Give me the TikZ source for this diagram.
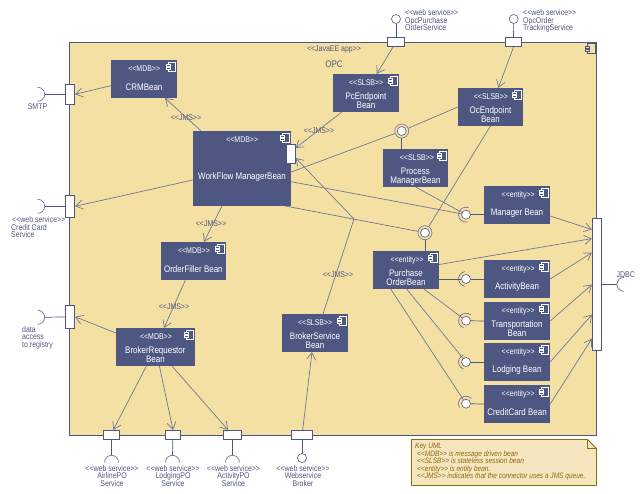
\documentclass[tikz,border=0pt]{standalone}
\usepackage{fontspec}
\setmainfont[FakeStretch=0.84]{Liberation Sans}
\usetikzlibrary{positioning, shapes, arrows.meta, calc}
\setlength{\lineskiplimit}{-5pt}

\definecolor{umlblue}{HTML}{4E5782}
\definecolor{umlline}{HTML}{6F7699}
\definecolor{umlsand}{HTML}{F5E0A3}
\definecolor{notefill}{HTML}{F6E6BF}
\definecolor{notedraw}{HTML}{8F6A10}

\tikzset{
  bean/.style={fill=umlblue, text=white, minimum width=66pt, minimum height=37.7pt, inner sep=0pt, align=center, font=\fontsize{9.5}{9}\selectfont},
  port/.style={draw=umlblue, fill=white, line width=0.8pt, inner sep=0pt},
  ball/.style={circle, draw=umlblue, fill=white, line width=0.6pt, minimum size=9pt, inner sep=0pt},
  ring/.style={circle, draw=umlline, line width=0.6pt, minimum size=14pt, inner sep=0pt},
  small/.style={text=umlblue, inner sep=0pt, align=left, font=\fontsize{8.3}{7.4}\selectfont},
  smallc/.style={small, align=center},
  jms/.style={small},
  flow/.style={draw=umlline, line width=0.7pt, -{Straight Barb[length=7pt,width=9pt]}},
  wire/.style={draw=umlline, line width=0.7pt},
  stub/.style={draw=umlblue, line width=0.7pt},
  sock/.style={draw=umlline, line width=0.7pt}
}

\newcommand{\st}[1]{<{}<#1>{}>}
% stereotype and small component icon at the top of a bean
\newcommand{\beanhead}[3]{
  \node[text=white, inner sep=0pt, font=\fontsize{8.3}{8}\selectfont] at ($(#1.north east)+(#3,9)$) {\st{#2}};
  \draw[white, line width=0.7pt, fill=umlblue] ($(#1.north east)+(-8.5,2.5)$) rectangle ($(#1.north east)+(-1.5,11.5)$);
  \draw[white, line width=0.7pt, fill=umlblue] ($(#1.north east)+(-10.5,4.5)$) rectangle ($(#1.north east)+(-7,6.5)$);
  \draw[white, line width=0.7pt, fill=umlblue] ($(#1.north east)+(-10.5,7.5)$) rectangle ($(#1.north east)+(-7,9.5)$);
}

\begin{document}
\begin{tikzpicture}[x=1pt, y=-1pt]
\useasboundingbox (0,0) rectangle (640,493);

% JavaEE application frame
\node[draw=umlblue, fill=umlsand, line width=0.8pt, minimum width=527pt, minimum height=392.8pt, inner sep=0pt] (opc) at (333,238.9) {};
\draw[umlblue, line width=0.7pt] (587.5,43.5) rectangle (595.5,53.5);
\draw[umlblue, line width=0.7pt, fill=umlsand] (585.5,46) rectangle (589.5,48);
\draw[umlblue, line width=0.7pt, fill=umlsand] (585.5,49.5) rectangle (589.5,51.5);
\node[smallc] (opcstereo) at (334,49.7) {\st{JavaEE app}};
\node[smallc, font=\fontsize{9.5}{9}\selectfont] (opcname) at (334,64.5) {OPC};

% Beans
\node[bean] (crm) at (144,79) {\mbox{}\\[14pt]CRMBean};
\node[bean, minimum width=98pt, minimum height=74.7pt] (workflow) at (242,168.4) {\mbox{}\\[15pt]WorkFlow ManagerBean};
\node[bean, minimum width=64.7pt] (orderfiller) at (193.4,261) {\mbox{}\\[14pt]OrderFiller Bean};
\node[bean, minimum width=78.7pt] (brokerreq) at (155.4,347) {\mbox{}\\[14pt]BrokerRequestor\\Bean};
\node[bean] (brokersvc) at (315,333) {\mbox{}\\[14pt]BrokerService\\Bean};
\node[bean] (pcend) at (366,93) {\mbox{}\\[14pt]PcEndpoint\\Bean};
\node[bean, minimum width=64.7pt] (ocend) at (490.4,107) {\mbox{}\\[14pt]OcEndpoint\\Bean};
\node[bean, minimum width=64.7pt] (procmgr) at (415.4,168) {\mbox{}\\[14pt]Process\\ManagerBean};
\node[bean] (manager) at (517,205) {\mbox{}\\[14pt]Manager Bean};
\node[bean] (purchase) at (406,270) {\mbox{}\\[14pt]Purchase\\OrderBean};
\node[bean] (activity) at (517,279) {\mbox{}\\[14pt]ActivityBean};
\node[bean] (transport) at (517,321) {\mbox{}\\[14pt]Transportation\\Bean};
\node[bean] (lodging) at (517,362) {\mbox{}\\[14pt]Lodging Bean};
\node[bean] (credit) at (517,404) {\mbox{}\\[14pt]CreditCard Bean};

\beanhead{crm}{MDB}{-33}
\beanhead{workflow}{MDB}{-49}
\beanhead{orderfiller}{MDB}{-32}
\beanhead{brokerreq}{MDB}{-39}
\beanhead{brokersvc}{SLSB}{-33}
\beanhead{pcend}{SLSB}{-33}
\beanhead{ocend}{SLSB}{-32}
\beanhead{procmgr}{SLSB}{-31}
\beanhead{manager}{entity}{-32}
\beanhead{purchase}{entity}{-32}
\beanhead{activity}{entity}{-32}
\beanhead{transport}{entity}{-32}
\beanhead{lodging}{entity}{-32}
\beanhead{credit}{entity}{-32}

% Ports
\node[port, minimum width=9.4pt, minimum height=20pt] (smtpport) at (70,94.3) {};
\node[port, minimum width=9.4pt, minimum height=22pt] (ccport) at (70,206.3) {};
\node[port, minimum width=9.4pt, minimum height=23pt] (regport) at (70,316.8) {};
\node[port, minimum width=17.4pt, minimum height=9.4pt] (pcport) at (396,42) {};
\node[port, minimum width=16.4pt, minimum height=9.4pt] (ocport) at (513.5,42) {};
\node[port, minimum width=9.4pt, minimum height=132pt] (jdbcport) at (597,284.3) {};
\node[port, minimum width=16.4pt, minimum height=9pt] (airport) at (111.5,434.8) {};
\node[port, minimum width=15.4pt, minimum height=9pt] (lodport) at (173,434.8) {};
\node[port, minimum width=18.4pt, minimum height=9pt] (actport) at (232.5,434.8) {};
\node[port, minimum width=21.4pt, minimum height=9pt] (brkport) at (302,434.8) {};
\node[port, minimum width=9.3pt, minimum height=19pt] (wfport) at (290.6,153.8) {};

% Outside interfaces
\coordinate (smtpend) at (44.7,94.3);
\coordinate (ccend) at (44.7,206.3);
\coordinate (regend) at (44.7,317.3);
\coordinate (jdbcend) at (617,284.3);
\coordinate (airend) at (111.5,455.3);
\coordinate (lodend) at (172.5,455.3);
\coordinate (actend) at (232.5,455.3);
\node[ball] (pcball) at (396,19) {};
\node[ball] (ocball) at (513.7,19) {};
\node[ball] (brkball) at (302,458) {};
\draw[stub] (smtpport) -- (smtpend);
\draw[stub] (ccport) -- (ccend);
\draw[stub] (regport) -- (regend);
\draw[stub] (jdbcport.east |- jdbcend) -- (jdbcend);
\draw[stub] (pcport) -- (pcball);
\draw[stub] (ocport) -- (ocball);
\draw[stub] (airport) -- (airend);
\draw[stub] (lodport) -- (lodend);
\draw[stub] (actport) -- (actend);
\draw[stub] (brkport) -- (brkball);
\foreach \pt in {smtpend, ccend, regend}
  \draw[sock] ($(\pt)+(-7,-7)$) arc[start angle=90, delta angle=-180, radius=7pt];
\draw[sock] ($(jdbcend)+(7,-7)$) arc[start angle=90, delta angle=180, radius=7pt];
\foreach \pt in {airend, lodend, actend}
  \draw[sock] ($(\pt)+(-7,7)$) arc[start angle=180, delta angle=-180, radius=7pt];

% Assembly connectors
\node[ring] (ocring) at (401.7,131) {};
\node[ball] (ocinner) at (401.7,131) {};
\node[ring] (poring) at (425,232.7) {};
\node[ball] (poinner) at (425,232.7) {};
\node[ball] (mgrball) at (466,214.7) {};
\node[ball] (actball) at (466,279) {};
\node[ball] (trball) at (466,320.7) {};
\node[ball] (lodball) at (466,362) {};
\node[ball] (ccball) at (466,403.7) {};
\draw[sock] ($(mgrball)+(70:7.5pt)$) arc[start angle=70, end angle=280, radius=7.5pt];
\draw[sock] ($(actball)+(100:7.5pt)$) arc[start angle=100, end angle=260, radius=7.5pt];
\draw[sock] ($(trball)+(50:7.5pt)$) arc[start angle=50, end angle=250, radius=7.5pt];
\draw[sock] ($(lodball)+(110:7.5pt)$) arc[start angle=110, end angle=250, radius=7.5pt];
\draw[sock] ($(ccball)+(45:7.5pt)$) arc[start angle=45, end angle=210, radius=7.5pt];

% Relations
\draw[flow] ([yshift=-6.7pt]crm.west) -- (smtpport.east);
\draw[flow] ([xshift=-41pt]workflow.north) -- ([xshift=21pt]crm.south);
\draw[flow] ([yshift=-11.6pt]workflow.west) -- (ccport.east);
\draw[flow] ([xshift=-20pt]workflow.south) -- ([xshift=10.6pt]orderfiller.north);
\draw[flow] ([xshift=-8pt]orderfiller.south) -- ([xshift=8.6pt]brokerreq.north);
\draw[flow] ([yshift=14pt]brokerreq.west) -- (regport.east);
\draw[flow] ([xshift=-9pt]brokerreq.south) -- ([xshift=1.8pt]airport.north);
\draw[flow] ([xshift=4pt]brokerreq.south) -- (lodport.north);
\draw[flow] ([xshift=16.6pt]brokerreq.south) -- ([xshift=-4.5pt]actport.north);
\draw[flow] ([xshift=0.7pt]brkport.north) -- ([xshift=-3pt]brokersvc.south);
\coordinate (bend) at (354,219);
\draw[wire] ([xshift=8pt]brokersvc.north) -- (bend);
\draw[flow] (bend) -- ([yshift=-4.2pt]wfport.east);
\draw[flow] ([xshift=-24.3pt]pcend.south) -- ([yshift=5.8pt]wfport.east);
\draw[flow] ([xshift=-3pt]pcport.south) -- ([xshift=10.7pt]pcend.north);
\draw[flow] (ocport.south) -- ([xshift=7.9pt]ocend.north);
\draw[wire] (ocend.west) -- (ocring);
\draw[wire] (ocring) -- ([yshift=-3.6pt]workflow.east);
\draw[stub] (procmgr.north -| ocring) -- (ocring);
\draw[wire] ([xshift=0.3pt]procmgr.south) -- (mgrball);
\draw[wire] ([yshift=-13.3pt]workflow.east) -- (mgrball);
\draw[stub] (mgrball) -- (manager.west |- mgrball);
\draw[flow] ([yshift=-11pt]manager.east) -- ([yshift=-11.7pt]jdbcport.north west);
\draw[wire] (ocend.south) -- (poring);
\draw[wire] ([xshift=43pt]workflow.south) -- (poring);
\draw[stub] (purchase.north -| poring) -- (poring);
\draw[flow] ([yshift=5.5pt]purchase.east) -- ([yshift=-20.7pt]jdbcport.north west);
\draw[stub] (purchase.east |- actball) -- (actball);
\draw[stub] (actball) -- (activity.west);
\draw[wire] ([xshift=18pt]purchase.south) -- (trball);
\draw[stub] (trball) -- (transport.west);
\draw[wire] ([xshift=0.7pt]purchase.south) -- (lodball);
\draw[stub] (lodball) -- (lodging.west);
\draw[wire] ([xshift=-15.3pt]purchase.south) -- (ccball);
\draw[stub] (ccball) -- (credit.west);
\draw[flow] (activity.east) -- ([yshift=-34.7pt]jdbcport.north west);
\draw[flow] (transport.east) -- ([yshift=-66.7pt]jdbcport.north west);
\draw[flow] (lodging.east) -- ([yshift=-96.7pt]jdbcport.north west);
\draw[flow] (credit.east) -- ([yshift=-120.7pt]jdbcport.north west);

% JMS labels
\node[jms] (jmsa) at (186,118) {\st{JMS}};
\node[jms] (jmsb) at (319,131) {\st{JMS}};
\node[jms] (jmsc) at (211,224) {\st{JMS}};
\node[jms] (jmsd) at (174,307) {\st{JMS}};
\node[jms] (jmse) at (338,275) {\st{JMS}};

% Outside labels
\node[smallc] (smtplab) at (37.5,106.5) {SMTP};
\node[small, anchor=north west] (cclab) at (11,216.5) {\hspace*{1pt}\st{web service}\\Credit Card\\Service};
\node[small, anchor=north west] (reglab) at (22,326) {data\\access\\to registry};
\node[small, anchor=north west] (pclab) at (405,9.5) {\st{web service}\\OpcPurchase\\OrderService};
\node[small, anchor=north west] (oclab) at (523,9.5) {\st{web service}\\OpcOrder\\TrackingService};
\node[smallc, anchor=north] (airlab) at (112,465) {\st{web service}\\AirlinePO\\Service};
\node[smallc, anchor=north] (lodlab) at (173,465) {\st{web service}\\LodgingPO\\Service};
\node[smallc, anchor=north] (actlab) at (233.5,465) {\st{web service}\\ActivityPO\\Service};
\node[smallc, anchor=north] (brklab) at (303,465) {\st{web service}\\Webservice\\Broker};
\node[smallc] (jdbclab) at (625.7,274.5) {JDBC};

% Key
\draw[draw=notedraw, fill=notefill, line width=0.8pt] (411.5,439.5) -- (587.5,439.5) -- (596.5,448.5) -- (596.5,485.5) -- (411.5,485.5) -- cycle;
\draw[draw=notedraw, line width=0.8pt] (587.5,439.5) -- (587.5,448.5) -- (596.5,448.5);
\node[text=notedraw, inner sep=0pt, align=left, anchor=north west, font=\itshape\fontsize{7.8}{7.6}\selectfont] (key) at (415,443) {Key UML\\\hspace*{2pt}\st{MDB} is message driven bean\\\hspace*{2pt}\st{SLSB} is stateless session bean\\\hspace*{2pt}\st{entity} is entity bean.\\\hspace*{2pt}\st{JMS} indicates that the connector uses a JMS queue.};

\end{tikzpicture}
\end{document}
